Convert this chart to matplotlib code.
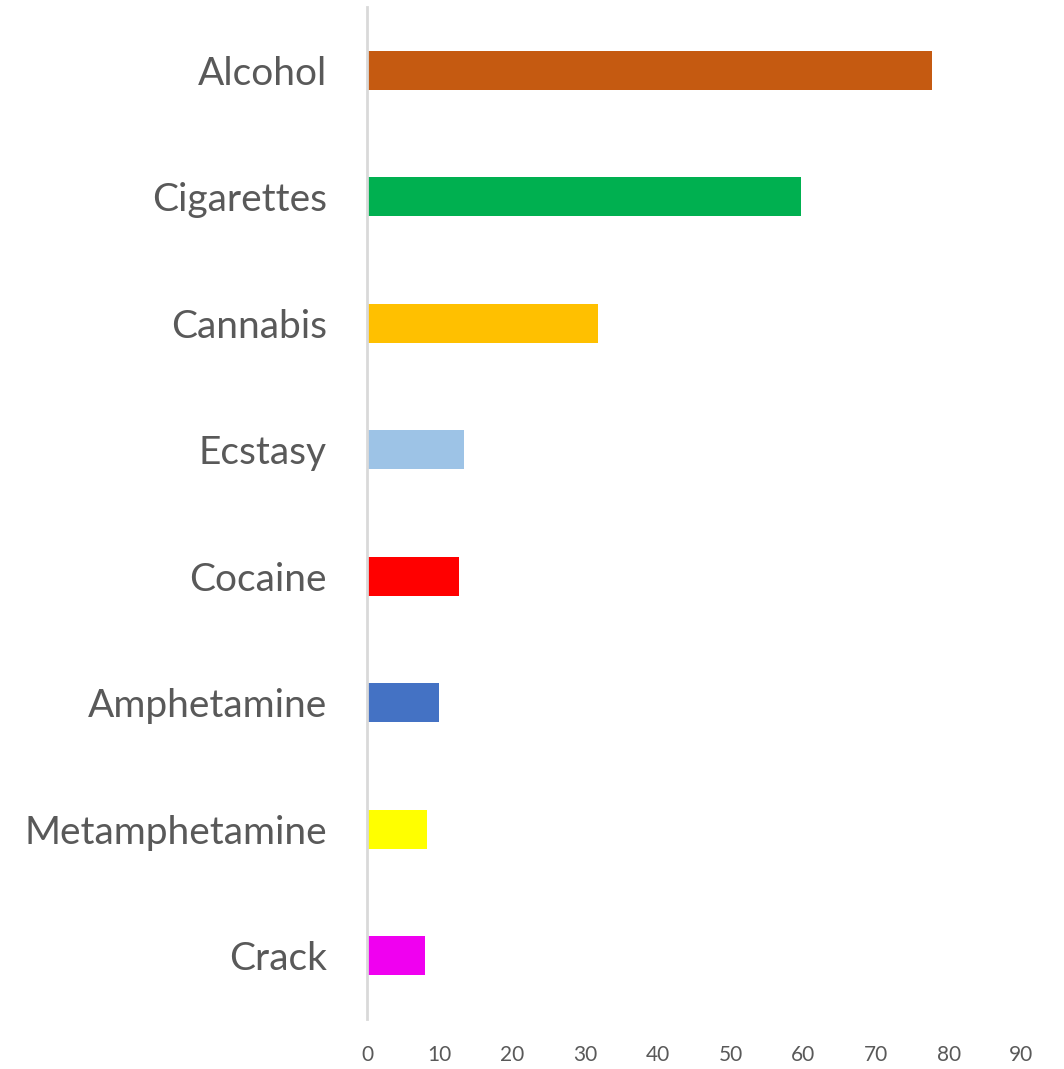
import matplotlib.pyplot as plt

drugs = ['Alcohol', 'Cigarettes', 'Cannabis', 'Ecstasy', 'Cocaine',
         'Amphetamine', 'Metamphetamine', 'Crack']
values = [77.7, 59.7, 31.8, 13.3, 12.7, 9.9, 8.3, 8.0]
colors = ['#C55A11', '#00B050', '#FFC000', '#9DC3E6', '#FF0000',
          '#4472C4', '#FFFF00', '#F000F0']
xticks = [0, 10, 20, 30, 40, 50, 60, 70, 80, 90]

plt.rcParams['font.family'] = ['Lato', 'DejaVu Sans']

fig = plt.figure(figsize=(10.64, 10.69), dpi=100)
ax = fig.add_axes([0.345, 0.0468, 0.615, 0.9467])

ypos = list(range(len(drugs)))
ax.barh(ypos, values, height=0.31, color=colors)
ax.set_ylim(len(drugs) - 0.5, -0.5)
ax.set_xlim(0, 90)

ax.set_yticks(ypos)
ax.set_yticklabels(drugs, fontsize=28, color='#595959')
ax.set_xticks(xticks)
ax.set_xticklabels([str(t) for t in xticks], fontsize=15, color='#595959')
ax.tick_params(axis='y', length=0, pad=29)
ax.tick_params(axis='x', length=0, pad=19)

for s in ['top', 'right', 'bottom']:
    ax.spines[s].set_visible(False)
ax.spines['left'].set_color('#D9D9D9')
ax.spines['left'].set_linewidth(2)

fig.savefig('out.png', dpi=100)
